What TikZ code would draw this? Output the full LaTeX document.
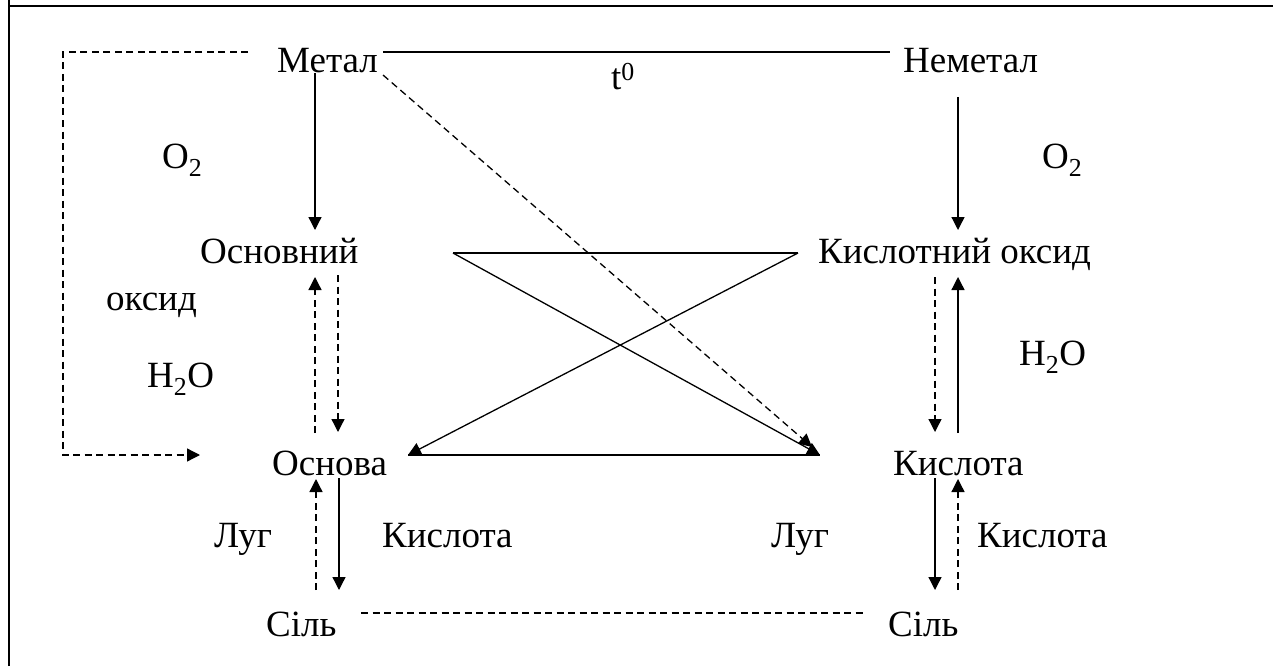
\documentclass[tikz,border=0pt]{standalone}
\usepackage{fontspec}
\setmainfont{Liberation Serif}
\usetikzlibrary{arrows.meta}
\begin{document}
\begin{tikzpicture}[x=1pt,y=-1pt,
  lbl/.style={inner sep=0pt,anchor=base west,font=\fontsize{37}{41}\selectfont},
  conn/.style={line width=1.3pt},
  dconn/.style={line width=1.3pt,dash pattern=on 7pt off 4.5pt},
  tip/.style={-{Triangle[length=13pt,width=13pt]}},
  frame/.style={line width=2.4pt}]
\useasboundingbox (0,0) rectangle (1273,666);
% frame
\coordinate (fa) at (9,666);
\coordinate (fb) at (9,0);
\coordinate (fb2) at (9,6);
\coordinate (fc) at (1273,6);
\draw[frame] (fa) -- (fb);
\draw[frame] (fb2) -- (fc);
% texts
\node[lbl] (metal) at (277,73) {Метал};
\node[lbl] (nemetal) at (903,73) {Неметал};
\node[lbl] (t0) at (611,90) {t\textsuperscript{0}};
\node[lbl] (o2l) at (162,168) {O\textsubscript{2}};
\node[lbl] (o2r) at (1042,168) {O\textsubscript{2}};
\node[lbl] (osnox) at (200,263) {Основний};
\node[lbl] (oksyd) at (106,310) {оксид};
\node[lbl] (kisox) at (818,263) {Кислотний оксид};
\node[lbl] (h2ol) at (147,387) {H\textsubscript{2}O};
\node[lbl] (h2or) at (1019,365) {H\textsubscript{2}O};
\node[lbl] (osnova) at (272,475) {Основа};
\node[lbl] (kislota) at (893,475) {Кислота};
\node[lbl] (lugl) at (214,547) {Луг};
\node[lbl] (kisl) at (382,547) {Кислота};
\node[lbl] (lugr) at (771,547) {Луг};
\node[lbl] (kisr) at (977,547) {Кислота};
\node[lbl] (sill) at (266,636) {Сіль};
\node[lbl] (silr) at (888,636) {Сіль};
% coordinates
\coordinate (la) at (248,52);
\coordinate (lb) at (63,52);
\coordinate (lc) at (63,455);
\coordinate (ld) at (200,455);
\coordinate (ta) at (383,52);
\coordinate (tb) at (890,52);
\coordinate (m1) at (315,73);
\coordinate (m2) at (315,230);
\coordinate (n1) at (958,97);
\coordinate (n2) at (958,230);
\coordinate (md1) at (383,75);
\coordinate (md2) at (812,447);
\coordinate (za) at (453,253);
\coordinate (zb) at (798,253);
\coordinate (zc) at (408,455);
\coordinate (zd) at (820,455);
\coordinate (ob1) at (315,433);
\coordinate (ob2) at (315,277);
\coordinate (ob3) at (338,275);
\coordinate (ob4) at (338,432);
\coordinate (ka1) at (935,277);
\coordinate (ka2) at (935,432);
\coordinate (ka3) at (958,433);
\coordinate (ka4) at (958,277);
\coordinate (os1) at (316,590);
\coordinate (os2) at (316,479);
\coordinate (os3) at (339,478);
\coordinate (os4) at (339,590);
\coordinate (ks1) at (935,478);
\coordinate (ks2) at (935,590);
\coordinate (ks3) at (958,590);
\coordinate (ks4) at (958,479);
\coordinate (sa) at (361,613);
\coordinate (sb) at (866,613);
% connectors
\draw[dconn,tip] (la) -- (lb) -- (lc) -- (ld);
\draw[conn] (ta) -- (tb);
\draw[conn,tip] (m1) -- (m2);
\draw[conn,tip] (n1) -- (n2);
\draw[dconn,tip] (md1) -- (md2);
\draw[conn] (za) -- (zb);
\draw[conn] (zc) -- (zd);
\draw[conn,tip] (za) -- (zd);
\draw[conn,tip] (zb) -- (zc);
\draw[dconn,tip] (ob1) -- (ob2);
\draw[dconn,tip] (ob3) -- (ob4);
\draw[dconn,tip] (ka1) -- (ka2);
\draw[conn,tip] (ka3) -- (ka4);
\draw[dconn,tip] (os1) -- (os2);
\draw[conn,tip] (os3) -- (os4);
\draw[conn,tip] (ks1) -- (ks2);
\draw[dconn,tip] (ks3) -- (ks4);
\draw[dconn] (sa) -- (sb);
\end{tikzpicture}
\end{document}
